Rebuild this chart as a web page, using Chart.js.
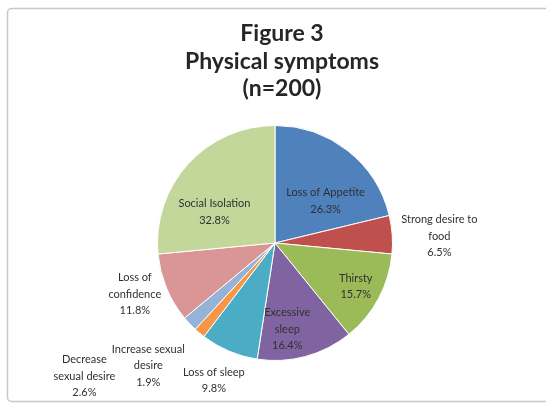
<!DOCTYPE html>
<html>
<head>
<meta charset="utf-8">
<script src="https://cdn.jsdelivr.net/npm/chart.js@4"></script>
<style>
  html, body { margin: 0; padding: 0; background: #ffffff; }
  #wrap { width: 546px; height: 404px; position: relative; }
</style>
</head>
<body>
<div id="wrap"><canvas id="c" width="546" height="404"></canvas></div>
<script>
// ---- data ----
const categories = [
  "Loss of Appetite",
  "Strong desire to food",
  "Thirsty",
  "Excessive sleep",
  "Loss of sleep",
  "Increase sexual desire",
  "Decrease sexual desire",
  "Loss of confidence",
  "Social Isolation"
];
const labelLines = [
  ["Loss of Appetite"],
  ["Strong desire to", "food"],
  ["Thirsty"],
  ["Excessive", "sleep"],
  ["Loss of sleep"],
  ["Increase sexual", "desire"],
  ["Decrease", "sexual desire"],
  ["Loss of", "confidence"],
  ["Social Isolation"]
];
const values = [26.3, 6.5, 15.7, 16.4, 9.8, 1.9, 2.6, 11.8, 32.8];
const titleLines = ["Figure 3", "Physical symptoms", "(n=200)"];

// ---- styles ----
const colors = ["#4F81BD", "#C0504D", "#9BBB59", "#8064A2", "#4BACC6",
                "#F79646", "#95B3D7", "#DA9694", "#C4D79B"];
// label placement relative to each slice: [angle offset in degrees, radius factor]
const labelPlace = [[12, 0.56], [1.7, 1.40], [0, 0.78], [7, 0.74], [1, 1.28],
                    [6, 1.50], [8.5, 1.98], [2.5, 1.27], [-15, 0.58]];

const decorPlugin = {
  id: 'decor',
  beforeDraw(chart) {
    const ctx = chart.ctx;
    ctx.save();
    ctx.fillStyle = '#ffffff';
    ctx.fillRect(0, 0, chart.width, chart.height);
    ctx.strokeStyle = '#C8C8C8';
    ctx.lineWidth = 1.5;
    ctx.beginPath();
    ctx.roundRect(7.5, 8.5, 560, 393, 4);
    ctx.stroke();
    ctx.restore();
  },
  afterDraw(chart) {
    const ctx = chart.ctx;
    ctx.save();
    // title
    ctx.fillStyle = '#262626';
    ctx.font = 'bold 23px Lato, "Liberation Sans", sans-serif';
    ctx.textAlign = 'center';
    ctx.textBaseline = 'middle';
    const ty = [34, 62, 89];
    titleLines.forEach((t, i) => ctx.fillText(t, 282, ty[i]));
    // data labels
    const meta = chart.getDatasetMeta(0);
    ctx.font = '11px Lato, "Liberation Sans", sans-serif';
    ctx.fillStyle = '#303030';
    meta.data.forEach((arc, i) => {
      const p = arc.getProps(['x', 'y', 'startAngle', 'endAngle', 'outerRadius'], true);
      const mid = (p.startAngle + p.endAngle) / 2 + labelPlace[i][0] * Math.PI / 180;
      const r = p.outerRadius * labelPlace[i][1];
      const cx = p.x + Math.cos(mid) * r;
      const cy = p.y + Math.sin(mid) * r;
      const lines = labelLines[i].concat([values[i].toFixed(1) + "%"]);
      const lh = 16.5;
      const y0 = cy - (lines.length - 1) * lh / 2;
      lines.forEach((l, k) => ctx.fillText(l, cx, y0 + k * lh));
    });
    ctx.restore();
  }
};

new Chart(document.getElementById('c'), {
  type: 'pie',
  data: {
    labels: categories,
    datasets: [{
      data: values,
      backgroundColor: colors,
      borderColor: '#ffffff',
      borderWidth: 1
    }]
  },
  options: {
    responsive: false,
    animation: false,
    layout: { padding: { top: 125, bottom: 43, left: 157, right: 153 } },
    plugins: {
      legend: { display: false },
      tooltip: { enabled: false },
      title: { display: false }
    }
  },
  plugins: [decorPlugin]
});
</script>
</body>
</html>
